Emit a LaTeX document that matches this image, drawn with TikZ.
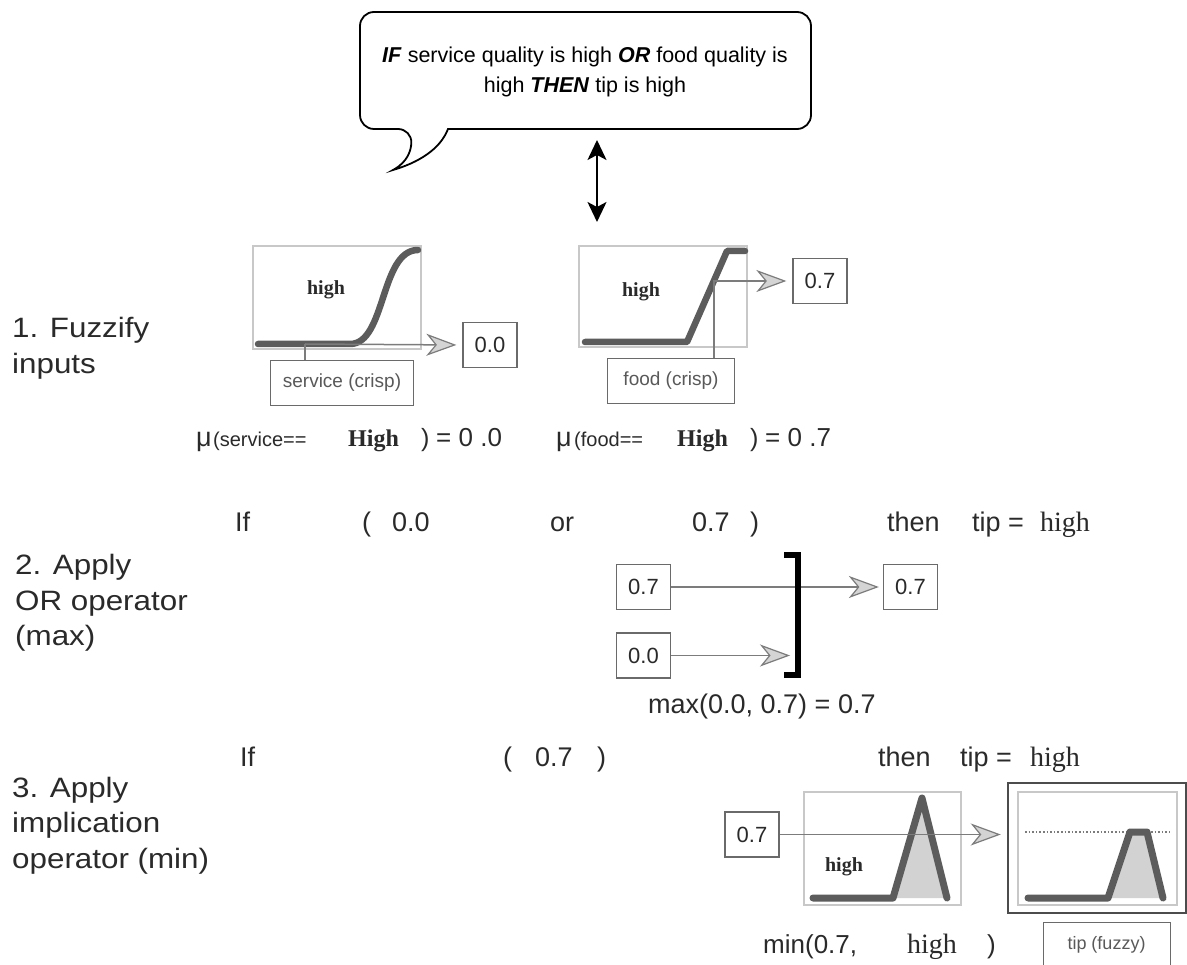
\documentclass[tikz,border=0pt]{standalone}
\usepackage{fontspec}
\setmainfont{Liberation Sans}
\newfontfamily\serifface{Liberation Serif}
\newfontfamily\widesans[FakeStretch=1.12]{Liberation Sans}
\usetikzlibrary{arrows.meta}

\definecolor{ink}{HTML}{2A2A2A}
\definecolor{boxline}{HTML}{6A6A6A}
\definecolor{frameline}{HTML}{C8C8C8}
\definecolor{curve}{HTML}{5C5C5C}
\definecolor{connline}{HTML}{7C7C7C}
\definecolor{headfill}{HTML}{D4D4D4}
\definecolor{areafill}{HTML}{D2D2D2}

\tikzset{
  txt/.style={inner sep=0pt, anchor=base west, text=ink},
  sec/.style={txt, font=\widesans\fontsize{28}{34}\selectfont},
  rowtxt/.style={txt, font=\fontsize{27}{32}\selectfont},
  rowhigh/.style={txt, font=\serifface\fontsize{28}{32}\selectfont},
  mflabel/.style={inner sep=0pt, text=ink, font=\serifface\bfseries\fontsize{20}{24}\selectfont},
  valbox/.style={draw=boxline, line width=1.3pt, fill=white, inner sep=0pt,
    minimum width=54pt, minimum height=45pt, text=ink, font=\fontsize{22}{26}\selectfont},
  crispbox/.style={draw=boxline, line width=1.2pt, fill=white, inner sep=0pt,
    text=black!65, font=\fontsize{19}{22}\selectfont},
  plotframe/.style={draw=frameline, line width=1.3pt},
  mf/.style={draw=curve, line width=6.5pt, line cap=round, line join=round},
  conn/.style={draw=connline, line width=1.5pt,
    -{Stealth[length=30pt, width=22pt, inset=9pt, fill=headfill, line width=1.2pt]}},
  plain/.style={draw=connline, line width=1.5pt},
}

\begin{document}
\begin{tikzpicture}[x=1pt, y=-1pt]
\useasboundingbox (0,0) rectangle (1187,965);
\clip (0,0) rectangle (1187,965);
\fill[white] (0,0) rectangle (1187,965);

% ---------- rule in a speech bubble ----------
\draw[line width=1.8pt, fill=white]
  (393,170) .. controls (417,163) and (440,150) .. (448,129)
  [rounded corners=14pt] -- (811,129) -- (811,12) -- (360,12) -- (360,129)
  -- (412,129) [sharp corners] .. controls (411,150) and (408,162) .. (393,170) -- cycle;
\node[align=center, inner sep=0pt, text=black, font=\fontsize{21.5}{30}\selectfont]
  (rule) at (585,72)
  {\textbf{\textit{IF}} service quality is high \textbf{\textit{OR}} food quality is\\
   high \textbf{\textit{THEN}} tip is high};
\coordinate (rtop) at (597,140);
\coordinate (rbot) at (597,222);
\draw[line width=2pt, {Stealth[length=20pt, width=19pt, inset=5pt]}-{Stealth[length=20pt, width=19pt, inset=5pt]}]
  (rtop) -- (rbot);

% ---------- step labels ----------
\node[sec] (s1a) at (12,338) {1. Fuzzify};
\node[sec] (s1b) at (12,374) {inputs};
\node[sec] (s2a) at (15,575) {2. Apply};
\node[sec] (s2b) at (15,610) {OR operator};
\node[sec] (s2c) at (15,645) {(max)};
\node[sec] (s3a) at (12,797) {3. Apply};
\node[sec] (s3b) at (12,832) {implication};
\node[sec] (s3c) at (12,868) {operator (min)};

% ---------- step 1: service ----------
\draw[plotframe] (253,246) rectangle (421,349);
\node[mflabel] (h1) at (326,290) {high};
\coordinate (sx) at (305,344);
\coordinate (sk) at (350,344);
\draw[mf] (258,344) -- (sk) .. controls (386,344) and (380,250) .. (418,250);
\node[valbox] (v1) at (490,345) {0.0};
\node[crispbox, minimum width=143pt, minimum height=45pt] (sc) at (342,383) {service (crisp)};
\draw[plain] (sc.north -| sx) -- (sx);
\draw[conn, shorten >=6pt] (sx) -- (v1.west);

% ---------- step 1: food ----------
\draw[plotframe] (579,246) rectangle (747,347);
\node[mflabel] (h2) at (641,292) {high};
\draw[mf] (585,342) -- (687,342) -- (727,251) -- (745,251);
\coordinate (fx) at (714,281);
\node[valbox] (v2) at (820,281) {0.7};
\node[crispbox, minimum width=127pt, minimum height=45pt] (fc) at (671,381) {food (crisp)};
\draw[conn, shorten >=6pt] (fc.north -| fx) -- (fx) -- (v2.west);

% ---------- membership values ----------
\node[txt, font=\fontsize{27}{30}\selectfont] (mu1) at (196,447) {μ};
\node[txt, font=\fontsize{20}{24}\selectfont] (ms1) at (213,447) {(service==};
\node[txt, font=\serifface\bfseries\fontsize{24}{28}\selectfont] (hs1) at (348,447) {High};
\node[txt, font=\fontsize{25}{28}\selectfont] (cp1) at (421,447) {)};
\node[txt, font=\fontsize{26}{30}\selectfont] (eq1) at (436,447) {= 0 .0};

\node[txt, font=\fontsize{27}{30}\selectfont] (mu2) at (556,447) {μ};
\node[txt, font=\fontsize{20}{24}\selectfont] (ms2) at (574,447) {(food==};
\node[txt, font=\serifface\bfseries\fontsize{24}{28}\selectfont] (hs2) at (677,447) {High};
\node[txt, font=\fontsize{25}{28}\selectfont] (cp2) at (750,447) {)};
\node[txt, font=\fontsize{26}{30}\selectfont] (eq2) at (765,447) {= 0 .7};

% ---------- step 2: rule line ----------
\node[rowtxt] (r2if) at (235,532) {If};
\node[rowtxt] (r2op) at (362,532) {(};
\node[rowtxt] (r2a) at (392,532) {0.0};
\node[rowtxt] (r2or) at (550,532) {or};
\node[rowtxt] (r2b) at (692,532) {0.7};
\node[rowtxt] (r2cp) at (750,532) {)};
\node[rowtxt] (r2then) at (887,532) {then};
\node[rowtxt] (r2tip) at (972,532) {tip =};
\node[rowhigh] (r2high) at (1040,532) {high};

% ---------- step 2: max operator ----------
\node[valbox] (a7) at (643.5,587) {0.7};
\node[valbox] (a0) at (643.5,655.5) {0.0};
\node[valbox] (o7) at (910.5,587) {0.7};
\coordinate (br0) at (790,655.5);
\draw[conn, shorten >=4pt] (a7.east) -- (o7.west);
\draw[conn] (a0.east) -- (br0);
\draw[line width=5.5pt, black] (784,555) -- (798,555) -- (798,675) -- (784,675);
\node[rowtxt] (maxt) at (648,713) {max(0.0, 0.7) = 0.7};

% ---------- step 3: rule line ----------
\node[rowtxt] (r3if) at (240,766) {If};
\node[rowtxt] (r3op) at (503,766) {(};
\node[rowtxt] (r3a) at (535,766) {0.7};
\node[rowtxt] (r3cp) at (597,766) {)};
\node[rowtxt] (r3then) at (878,766) {then};
\node[rowtxt] (r3tip) at (960,766) {tip =};
\node[rowhigh] (r3high) at (1030,766) {high};

% ---------- step 3: implication ----------
\draw[plotframe] (804,792) rectangle (961,905);
\fill[areafill] (893,898) -- (922,798) -- (947,898) -- cycle;
\draw[mf, line width=7pt] (813,898) -- (893,898) -- (922,798) -- (947,898);
\node[mflabel] (h3) at (844,867) {high};

\node[draw=black!70, line width=2.5pt, minimum width=178pt, minimum height=130pt, inner sep=0pt]
  (outb) at (1097,848) {};
\draw[plotframe] (1018,792) rectangle (1177,905);
\draw[connline, line width=1.6pt, dotted] (1025,832) -- (1170,832);
\fill[areafill] (1108,898) -- (1130,832) -- (1147,832) -- (1163,898) -- cycle;
\draw[mf, line width=7pt] (1028,898) -- (1108,898) -- (1130,832) -- (1147,832) -- (1163,898);

\node[valbox] (i7) at (752,834.5) {0.7};
\draw[conn, shorten >=6pt] (i7.east) -- (i7.east -| outb.west);

\node[txt, font=\fontsize{26}{30}\selectfont] (mint) at (763,953) {min(0.7,};
\node[rowhigh] (minh) at (907,953) {high};
\node[txt, font=\fontsize{26}{30}\selectfont] (minc) at (987,953) {)};
\node[crispbox, font=\fontsize{18}{22}\selectfont, minimum width=127pt, minimum height=55pt,
  anchor=north west] (tf) at (1043,922) {};
\node[inner sep=0pt, text=black!65, font=\fontsize{18}{22}\selectfont] (tft) at (1106.5,945) {tip (fuzzy)};
\end{tikzpicture}
\end{document}
